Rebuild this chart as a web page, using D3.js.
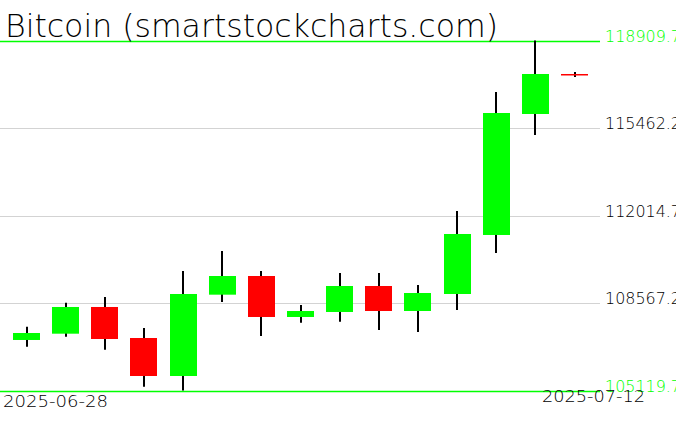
<!DOCTYPE html>
<html><head><meta charset="utf-8">
<script src="https://cdn.jsdelivr.net/npm/d3@7"></script>
<style>html,body{margin:0;padding:0;background:#fff;}svg{display:block;}</style>
</head><body>
<svg id="c" width="676" height="431"></svg>
<script>
const dates = ["2025-06-28","2025-06-29","2025-06-30","2025-07-01","2025-07-02","2025-07-03","2025-07-04","2025-07-05","2025-07-06","2025-07-07","2025-07-08","2025-07-09","2025-07-10","2025-07-11","2025-07-12"];
const opens  = [107110,107358,108410,107188,105691,108895,109631,108016,108213,109237,108252,108922,111247,116014,117590];
const highs  = [107633,108579,108804,107582,109828,110616,109828,108489,109750,109750,109277,112192,116881,118909.7,117668];
const lows   = [106846,107240,106728,105270,105119.7,108607,107267,107791,107831,107504,107425,108292,110537,115187,117472];
const closes = [107385,108410,107149,105691,108922,109631,108016,108252,109237,108252,108961,111286,116053,117590,117575];
const tickValues = [105119.7,108567.2,112014.7,115462.2,118909.7];
const tickLabels = ["105119.7","108567.2","112014.7","115462.2","118909.7"];
const title = "Bitcoin (smartstockcharts.com)";

const data = dates.map((d,i)=>({d, o:opens[i], h:highs[i], l:lows[i], c:closes[i]}));
const svg = d3.select("#c");
const y = d3.scaleLinear().domain([tickValues[0], tickValues[4]]).range([390.5, 40.5]);
const x = d3.scalePoint().domain(dates).range([26.5, 574.5]);
const bw = 27;

// grid lines
svg.append("g").selectAll("line").data(tickValues).join("line")
  .attr("x1",0).attr("x2",600)
  .attr("y1",d=>Math.round(y(d))+0.5).attr("y2",d=>Math.round(y(d))+0.5)
  .attr("stroke",(d,i)=> (i===0||i===tickValues.length-1) ? "#00ff00" : "#d3d3d3")
  .attr("stroke-width",(d,i)=> (i===0||i===tickValues.length-1) ? 1.6 : 1);

// right labels
svg.append("g").selectAll("text").data(tickValues).join("text")
  .attr("x",605).attr("y",d=>y(d)+1)
  .attr("font-family","DejaVu Sans, sans-serif").attr("font-weight",200).attr("font-size",16)
  .attr("textLength",76).attr("lengthAdjust","spacingAndGlyphs")
  .attr("fill",(d,i)=> (i===0||i===tickValues.length-1) ? "#00ff00" : "#000")
  .text((d,i)=>tickLabels[i]);

// candles
const g = svg.append("g");
g.selectAll("line.w").data(data).join("line").attr("class","w")
  .attr("x1",d=>Math.round(x(d.d))).attr("x2",d=>Math.round(x(d.d)))
  .attr("y1",d=>y(d.h)).attr("y2",d=>y(d.l))
  .attr("stroke","#000").attr("stroke-width",2);
g.selectAll("rect").data(data).join("rect")
  .attr("x",d=>Math.round(x(d.d)-bw/2))
  .attr("width",bw)
  .attr("y",d=>y(Math.max(d.o,d.c)))
  .attr("height",d=>Math.max(1.5, Math.abs(y(d.o)-y(d.c))))
  .attr("fill",d=> d.c>=d.o ? "#00ff00" : "#ff0000");

// title
svg.append("text").attr("x",5).attr("y",37)
  .attr("font-family","DejaVu Sans, sans-serif").attr("font-weight",200).attr("font-size",32)
  .attr("textLength",493).attr("lengthAdjust","spacingAndGlyphs")
  .attr("fill","#000").text(title);

// date labels
svg.append("text").attr("x",3).attr("y",407)
  .attr("font-family","DejaVu Sans, sans-serif").attr("font-weight",200).attr("font-size",16)
  .attr("textLength",105).attr("lengthAdjust","spacingAndGlyphs")
  .text(dates[0]);
svg.append("text").attr("x",645).attr("y",402).attr("text-anchor","end")
  .attr("font-family","DejaVu Sans, sans-serif").attr("font-weight",200).attr("font-size",16)
  .attr("textLength",103).attr("lengthAdjust","spacingAndGlyphs")
  .text(dates[dates.length-1]);
</script>
</body></html>
